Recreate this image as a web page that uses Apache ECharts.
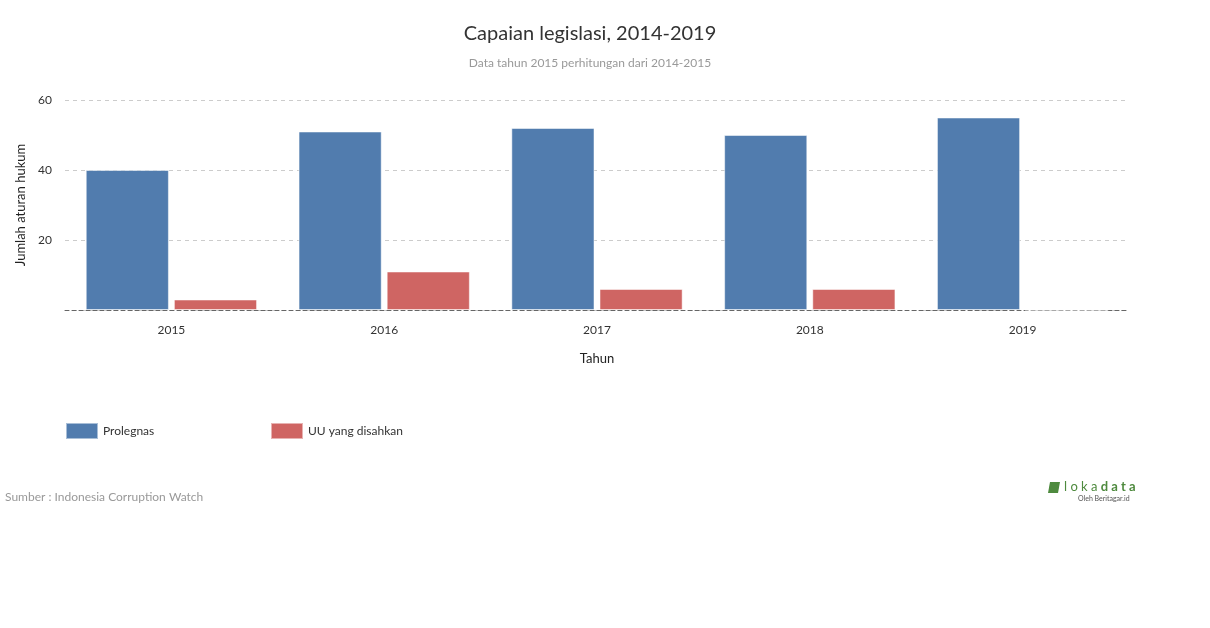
<!DOCTYPE html>
<html>
<head>
<meta charset="utf-8">
<script src="https://cdn.jsdelivr.net/npm/echarts@6/dist/echarts.min.js"></script>
<style>
html,body{margin:0;padding:0;background:#fff;}
#chart{width:1210px;height:628px;}
</style>
</head>
<body>
<div id="chart"></div>
<script>
const categories = ['2015', '2016', '2017', '2018', '2019'];
const prolegnas = [40, 51, 52, 50, 55];
const uuDisahkan = [3, 11, 6, 6, 0];
const yTicks = [0, 20, 40, 60];

const chart = echarts.init(document.getElementById('chart'));
const FONT = 'Lato';
chart.setOption({
  animation: false,
  textStyle: { fontFamily: FONT },
  grid: { left: 65, right: 81, top: 100, bottom: 318, containLabel: false },
  legend: [
    {
      data: ['Prolegnas'], left: 60, top: 417, itemWidth: 32, itemHeight: 16, itemGap: 5,
      icon: 'rect',
      textStyle: { fontFamily: FONT, fontSize: 12, color: '#333' }
    },
    {
      data: ['UU yang disahkan'], left: 265, top: 417, itemWidth: 32, itemHeight: 16,
      icon: 'rect',
      textStyle: { fontFamily: FONT, fontSize: 12, color: '#333' }
    }
  ],
  xAxis: {
    type: 'category',
    data: categories,
    name: 'Tahun',
    nameLocation: 'middle',
    nameGap: 42,
    nameTextStyle: { fontFamily: FONT, fontSize: 13, color: '#222' },
    axisTick: { show: false },
    axisLine: { show: true, lineStyle: { color: '#666', type: [4, 3], width: 1 } },
    axisLabel: { fontFamily: FONT, fontSize: 12, color: '#333', margin: 14 }
  },
  yAxis: {
    type: 'value',
    min: yTicks[0],
    max: yTicks[yTicks.length - 1],
    interval: 20,
    name: 'Jumlah aturan hukum',
    nameLocation: 'middle',
    nameGap: 31,
    nameTextStyle: { fontFamily: FONT, fontSize: 13, color: '#222' },
    axisLine: { show: false },
    axisTick: { show: false },
    axisLabel: {
      fontFamily: FONT, fontSize: 12, color: '#333', margin: 13,
      formatter: v => (v === 0 ? '' : String(v))
    },
    splitLine: { lineStyle: { color: '#ccc', type: [4, 4], width: 1 } }
  },
  series: [
    {
      name: 'Prolegnas', type: 'bar', data: prolegnas,
      barCategoryGap: '19.5%', barGap: '6%',
      itemStyle: { color: '#517cae', borderColor: 'rgba(255,255,255,0.5)', borderWidth: 1 }
    },
    {
      name: 'UU yang disahkan', type: 'bar', data: uuDisahkan,
      itemStyle: { color: '#cf6563', borderColor: 'rgba(255,255,255,0.5)', borderWidth: 1 }
    }
  ],
  graphic: [
    {
      type: 'text', x: 590, y: 24,
      style: { text: 'Capaian legislasi, 2014-2019', font: '20px Lato', fill: '#333', textAlign: 'center' }
    },
    {
      type: 'text', x: 590, y: 57,
      style: { text: 'Data tahun 2015 perhitungan dari 2014-2015', font: '12px Lato', fill: '#999', textAlign: 'center' }
    },
    {
      type: 'text', left: 5, top: 491,
      style: { text: 'Sumber : Indonesia Corruption Watch', font: '12px Lato', fill: '#999' }
    },
    {
      type: 'polygon', shape: { points: [[1050, 482], [1060, 482], [1058, 493], [1048, 493]] },
      style: { fill: '#4e8a3e' }
    },
    {
      type: 'text', left: 1064, top: 480,
      style: {
        text: '{a|l o k a} {b|d a t a}',
        rich: {
          a: { font: '13px Lato', fill: '#4e8a3e' },
          b: { font: 'bold 13px Lato', fill: '#4e8a3e' }
        }
      }
    },
    {
      type: 'text', left: 1078, top: 495,
      style: { text: 'Oleh Beritagar.id', font: '7px Lato', fill: '#555' }
    }
  ]
});
</script>
</body>
</html>
